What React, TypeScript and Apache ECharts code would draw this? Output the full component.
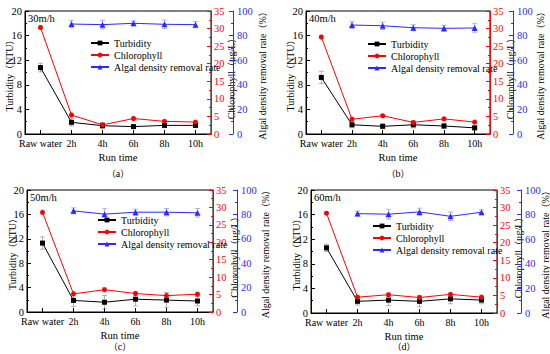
import React, { useEffect, useRef } from 'react';
import * as echarts from 'echarts';

const categories = ['Raw water', '2h', '4h', '6h', '8h', '10h'];
const speedLabels = ['30m/h', '40m/h', '50m/h', '60m/h'];
const panelLabels = ['（a）', '（b）', '（c）', '（d）'];
const legendNames = ['Turbidity', 'Chlorophyll', 'Algal density removal rate'];
const axisNames = ['Turbidity（NTU）', 'Chlorophyll（μg/L）', 'Algal density removal rate（%）'];
const xAxisName = 'Run time';
const turbidityTicks = { min: 0, max: 20, interval: 4 };
const chlorophyllTicks = { min: 0, max: 35, interval: 5 };
const algalTicks = { min: 0, max: 100, interval: 20 };

// (a) 30 m/h
const turbidity30 = [10.8, 1.9, 1.35, 1.2, 1.4, 1.4];
const turbidity30Err = [0.7, 0.6, 0.5, 0.3, 0.3, 0.3];
const chlorophyll30 = [30.3, 5.4, 2.6, 4.4, 3.6, 3.4];
const chlorophyll30Err = [0.4, 0.5, 0.6, 0.4, 0.4, 0.4];
const algal30 = [null, 89.4, 88.9, 90.0, 89.2, 88.9];
const algal30Err = [null, 3, 3.5, 2, 3.5, 2.5];

// (b) 40 m/h
const turbidity40 = [9.2, 1.5, 1.25, 1.5, 1.3, 1.0];
const turbidity40Err = [1.0, 0.5, 0.4, 0.5, 0.4, 0.3];
const chlorophyll40 = [27.6, 4.2, 5.2, 3.3, 4.3, 3.4];
const chlorophyll40Err = [0.4, 0.5, 0.4, 0.5, 0.5, 0.4];
const algal40 = [null, 88.6, 88.0, 86.4, 85.9, 86.2];
const algal40Err = [null, 3, 3, 2.5, 2.5, 3.5];

// (c) 50 m/h
const turbidity50 = [11.3, 1.9, 1.6, 2.1, 1.95, 1.8];
const turbidity50Err = [1.0, 1.0, 1.1, 1.1, 1.2, 0.8];
const chlorophyll50 = [28.6, 5.2, 6.4, 5.3, 4.7, 5.1];
const chlorophyll50Err = [0.6, 0.6, 0.6, 0.6, 0.8, 0.6];
const algal50 = [null, 82.9, 80.2, 81.8, 81.8, 81.3];
const algal50Err = [null, 2.5, 4.5, 2.5, 3, 3.5];

// (d) 60 m/h
const turbidity60 = [10.6, 1.9, 2.1, 1.9, 2.3, 2.1];
const turbidity60Err = [0.6, 0.6, 0.9, 0.9, 0.8, 0.6];
const chlorophyll60 = [28.4, 4.5, 5.2, 4.4, 5.3, 4.5];
const chlorophyll60Err = [0.4, 0.5, 0.5, 0.5, 0.5, 0.6];
const algal60 = [null, 80.8, 80.3, 82.2, 78.6, 81.9];
const algal60Err = [null, 2, 4, 3, 3.5, 2];

const FONT = "'Liberation Serif', 'Times New Roman', serif";
const CJK = "'Noto Sans CJK SC', sans-serif";
const BLACK = '#000000';
const RED = '#ff0000';
const BLUE = '#2a2aff';

const panelData = [
  { turb: turbidity30, turbErr: turbidity30Err, chl: chlorophyll30, chlErr: chlorophyll30Err, alg: algal30, algErr: algal30Err },
  { turb: turbidity40, turbErr: turbidity40Err, chl: chlorophyll40, chlErr: chlorophyll40Err, alg: algal40, algErr: algal40Err },
  { turb: turbidity50, turbErr: turbidity50Err, chl: chlorophyll50, chlErr: chlorophyll50Err, alg: algal50, algErr: algal50Err },
  { turb: turbidity60, turbErr: turbidity60Err, chl: chlorophyll60, chlErr: chlorophyll60Err, alg: algal60, algErr: algal60Err },
];

// left axis x, red axis x, plot top/bottom, blue axis offset, legend, axis-name x positions
const layouts = [
  { left: 25, red: 211, top: 11, bottom: 134, blueOff: 22, lgLeft: 90, lgTop: 38, labelY: 173, nL: 9, nR: 231, nB: 262 },
  { left: 306, red: 490, top: 11, bottom: 134, blueOff: 23, lgLeft: 367, lgTop: 39, labelY: 173, nL: 290, nR: 510, nB: 540 },
  { left: 27, red: 213, top: 190, bottom: 312, blueOff: 24, lgLeft: 97, lgTop: 215, labelY: 346, nL: 12, nR: 234, nB: 265 },
  { left: 311, red: 497, top: 190, bottom: 313, blueOff: 24, lgLeft: 372, lgTop: 221, labelY: 346, nL: 296.5, nR: 518, nB: 545 },
];

// split a string into rich-text segments so full-width brackets use a CJK font
function toRich(s: string) {
  let out = '';
  let buf = '';
  for (const ch of s) {
    if (ch === '（' || ch === '）') {
      if (buf) out += '{a|' + buf + '}';
      buf = '';
      out += '{p|' + ch + '}';
    } else buf += ch;
  }
  if (buf) out += '{a|' + buf + '}';
  return out;
}

function richStyles(size: number) {
  return {
    a: { fontFamily: FONT, fontSize: size, lineHeight: size, fill: BLACK, color: BLACK },
    p: { fontFamily: CJK, fontSize: size * 0.9, lineHeight: size, fill: BLACK, color: BLACK },
  };
}

function errorSeries(name: string, values: (number | null)[], errs: (number | null)[], xi: number, yi: number, color: string) {
  const data: any[] = [];
  values.forEach((v, i) => {
    if (v != null && errs[i] != null) data.push([i, v, errs[i]]);
  });
  return {
    type: 'custom',
    name,
    xAxisIndex: xi,
    yAxisIndex: yi,
    z: 1,
    silent: true,
    data,
    renderItem: (params: any, api: any) => {
      const x = api.value(0);
      const y = api.value(1);
      const e = api.value(2);
      const hi = api.coord([x, y + e]);
      const lo = api.coord([x, y - e]);
      const style = { stroke: color, lineWidth: 0.8 };
      return {
        type: 'group',
        children: [
          { type: 'line', shape: { x1: hi[0], y1: hi[1], x2: lo[0], y2: lo[1] }, style },
          { type: 'line', shape: { x1: hi[0] - 2.5, y1: hi[1], x2: hi[0] + 2.5, y2: hi[1] }, style },
          { type: 'line', shape: { x1: lo[0] - 2.5, y1: lo[1], x2: lo[0] + 2.5, y2: lo[1] }, style },
        ],
      };
    },
  };
}

function valueAxis(p: number, kind: 'left' | 'red' | 'blue', lay: any) {
  const color = kind === 'left' ? BLACK : kind === 'red' ? RED : BLUE;
  const ticks = kind === 'left' ? turbidityTicks : kind === 'red' ? chlorophyllTicks : algalTicks;
  return {
    type: 'value',
    gridIndex: p,
    position: kind === 'left' ? 'left' : 'right',
    offset: kind === 'blue' ? lay.blueOff : 0,
    min: ticks.min,
    max: ticks.max,
    interval: ticks.interval,
    axisLine: { show: true, lineStyle: { color, width: 1 } },
    axisTick: { show: true, inside: true, length: 4, lineStyle: { color } },
    minorTick: { show: true, splitNumber: 2, length: 2, lineStyle: { color } },
    splitLine: { show: false },
    axisLabel: { fontFamily: FONT, fontSize: 10.5, color, margin: kind === 'blue' ? 4 : 3 },
  };
}

function richText(x: number, y: number, text: string, size: number, rotation: number) {
  return {
    type: 'text',
    x,
    y,
    rotation,
    style: { text: toRich(text), rich: richStyles(size), fontFamily: FONT, fontSize: size, lineHeight: size, fill: BLACK, align: 'center', verticalAlign: 'middle' },
  };
}

function buildOption() {
  const grid: any[] = [];
  const xAxis: any[] = [];
  const yAxis: any[] = [];
  const series: any[] = [];
  const legend: any[] = [];
  const graphic: any[] = [];

  layouts.forEach((lay, p) => {
    const d = panelData[p];
    grid.push({
      left: lay.left,
      right: 550 - lay.red,
      top: lay.top,
      bottom: 354 - lay.bottom,
      show: true,
      borderColor: BLACK,
      borderWidth: 1,
      backgroundColor: 'transparent',
    });
    xAxis.push({
      type: 'category',
      gridIndex: p,
      data: categories,
      boundaryGap: true,
      axisLine: { show: true, lineStyle: { color: BLACK, width: 1 } },
      axisTick: { show: true, inside: true, alignWithLabel: true, length: 4, lineStyle: { color: BLACK } },
      axisLabel: { fontFamily: FONT, fontSize: 10, color: BLACK, margin: 4, interval: 0 },
      splitLine: { show: false },
    });
    yAxis.push(valueAxis(p, 'left', lay));
    yAxis.push(valueAxis(p, 'red', lay));
    yAxis.push(valueAxis(p, 'blue', lay));

    series.push(errorSeries('errT' + p, d.turb, d.turbErr, p, 3 * p, 'rgba(90,90,90,0.55)'));
    series.push(errorSeries('errC' + p, d.chl, d.chlErr, p, 3 * p + 1, 'rgba(160,120,120,0.55)'));
    series.push(errorSeries('errA' + p, d.alg, d.algErr, p, 3 * p + 2, 'rgba(80,80,220,0.55)'));

    series.push({
      type: 'line', name: legendNames[0], xAxisIndex: p, yAxisIndex: 3 * p, data: d.turb,
      symbol: 'rect', symbolSize: 5, z: 3,
      itemStyle: { color: BLACK }, lineStyle: { color: BLACK, width: 1 },
    });
    series.push({
      type: 'line', name: legendNames[1], xAxisIndex: p, yAxisIndex: 3 * p + 1, data: d.chl,
      symbol: 'circle', symbolSize: 5, z: 3,
      itemStyle: { color: RED }, lineStyle: { color: RED, width: 1 },
    });
    series.push({
      type: 'line', name: legendNames[2], xAxisIndex: p, yAxisIndex: 3 * p + 2, data: d.alg,
      symbol: 'triangle', symbolSize: 6, z: 3,
      itemStyle: { color: BLUE }, lineStyle: { color: BLUE, width: 1 },
    });

    legend.push({
      data: legendNames,
      orient: 'vertical',
      left: lay.lgLeft,
      top: lay.lgTop,
      padding: 0,
      itemWidth: 18,
      itemHeight: 6,
      itemGap: 2,
      selectedMode: false,
      textStyle: { fontFamily: FONT, fontSize: 10, color: BLACK },
    });

    const midY = (lay.top + lay.bottom) / 2 + 1;
    graphic.push(richText(lay.nL, midY, axisNames[0], 10, Math.PI / 2));
    graphic.push(richText(lay.nR, midY + 3, axisNames[1], 10, Math.PI / 2));
    graphic.push(richText(lay.nB, midY, axisNames[2], 10, Math.PI / 2));

    graphic.push({
      type: 'text',
      x: (lay.left + lay.red) / 2,
      y: lay.bottom + 23,
      style: { text: xAxisName, fontFamily: FONT, fontSize: 10.5, fill: BLACK, align: 'center', verticalAlign: 'middle' },
    });
    graphic.push({
      type: 'text',
      left: lay.left + 3,
      top: lay.top + 2,
      style: { text: speedLabels[p], fontFamily: FONT, fontSize: 10.5, fill: BLACK },
    });
    graphic.push(richText((lay.left + lay.red) / 2, lay.labelY, panelLabels[p], 10, 0));
  });

  return {
    animation: false,
    backgroundColor: '#ffffff',
    textStyle: { fontFamily: FONT },
    grid, xAxis, yAxis, series, legend, graphic,
  };
}

export default function App() {
  const ref = useRef<HTMLDivElement>(null);
  useEffect(() => {
    if (!ref.current) return;
    const chart = echarts.init(ref.current, undefined, { renderer: 'svg' });
    chart.setOption(buildOption() as any);
    return () => chart.dispose();
  }, []);
  return <div ref={ref} style={{ position: 'fixed', left: 0, top: 0, width: 550, height: 354 }} />;
}
